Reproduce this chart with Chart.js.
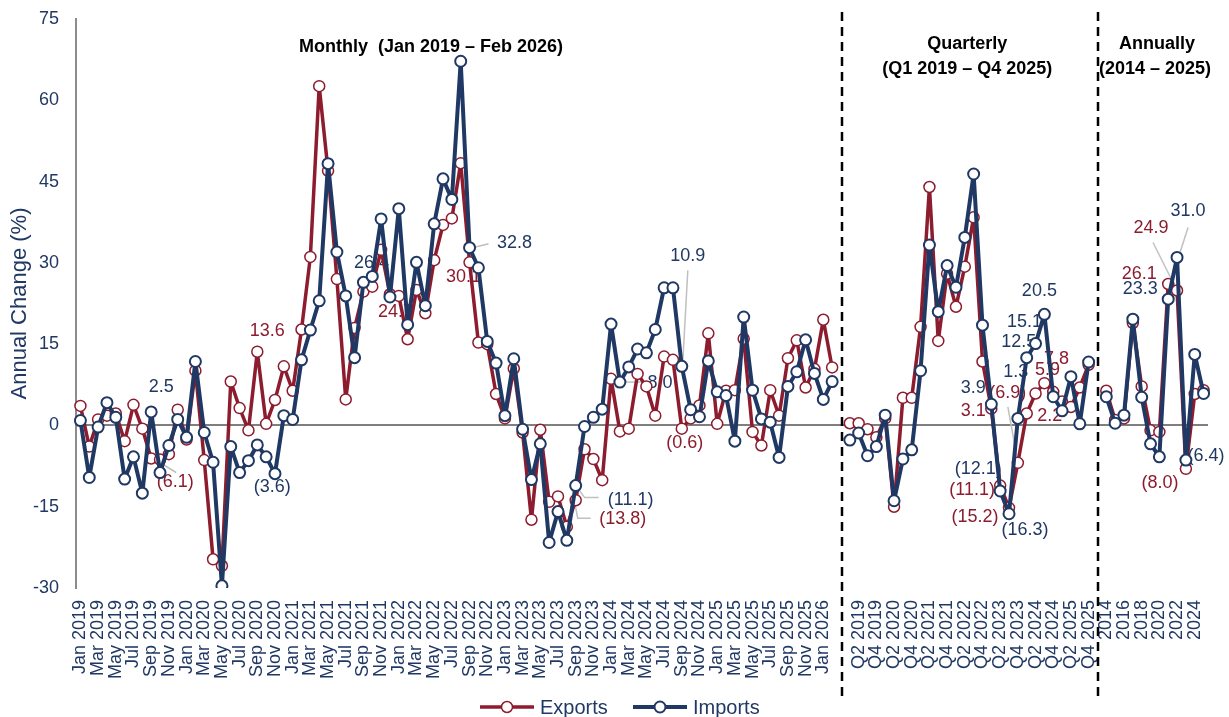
<!DOCTYPE html>
<html>
<head>
<meta charset="utf-8">
<script src="https://cdn.jsdelivr.net/npm/chart.js@4.4.1/dist/chart.umd.min.js"></script>
<style>
  html, body { margin: 0; padding: 0; background: #fff; }
  #wrap { width: 1229px; height: 717px; position: relative; }
</style>
</head>
<body>
<div id="wrap"><canvas id="myChart"></canvas></div>
<script>
const FONT = 'Arial, "Liberation Sans", sans-serif';
const NAVY = '#203864';
const RED = '#8c1c2e';

// Categories

const monthNames = ['Jan', 'Feb', 'Mar', 'Apr', 'May', 'Jun', 'Jul', 'Aug', 'Sep', 'Oct', 'Nov', 'Dec'];
const monthLabels = [];
for (let y = 2019; y <= 2026; y++) {
  monthNames.forEach((m, k) => {
    if (y === 2026 && k > 1) return; // series stops at Feb 2026
    monthLabels.push(m + ' ' + y);
  });
}
const quarterLabels = [];
for (let y = 2019; y <= 2025; y++) {
  for (let q = 1; q <= 4; q++) quarterLabels.push('Q' + q + ' ' + y);
}
const yearLabels = ['2014', '2015', '2016', '2017', '2018', '2019', '2020', '2021', '2022', '2023', '2024', '2025'];

// Annual change (%)

const monthExports = [
  3.6, -3.9, 1.1, 1.8, 2.2, -2.9, 3.8, -0.6, -6.1, -6.3, -5.3, 2.9,
  -2.6, 10.1, -6.4, -24.7, -25.9, 8.1, 3.2, -0.9, 13.6, 0.3, 4.7, 10.9,
  6.4, 17.7, 31.1, 62.6, 47.0, 27.0, 4.8, 18.0, 24.7, 25.6, 32.4, 24.2,
  23.9, 15.9, 25.0, 20.7, 30.5, 37.0, 38.2, 48.4, 30.1, 15.3, 15.0, 5.8,
  1.3, 10.5, -1.3, -17.4, -0.8, -14.1, -13.1, -18.7, -13.8, -4.4, -6.2, -10.1,
  8.6, -1.1, -0.6, 9.5, 7.2, 1.8, 12.7, 12.1, -0.6, 1.3, 3.7, 17.0,
  0.3, 6.4, 6.5, 16.0, -1.2, -3.7, 6.5, 1.8, 12.4, 15.7, 7.0, 10.4,
  19.5, 10.7
];
const monthImports = [
  0.9, -9.6, -0.3, 4.2, 1.5, -9.9, -5.8, -12.5, 2.5, -8.7, -3.7, 1.1,
  -2.2, 11.8, -1.3, -6.8, -29.6, -3.9, -8.7, -6.5, -3.6, -5.8, -8.9, 1.8,
  1.1, 12.1, 17.6, 23.0, 48.3, 32.0, 23.9, 12.5, 26.4, 27.5, 38.1, 23.7,
  40.0, 18.6, 30.1, 22.1, 37.2, 45.5, 41.7, 67.2, 32.8, 29.1, 15.5, 11.5,
  1.8, 12.3, -0.7, -10.0, -3.4, -21.6, -15.9, -21.2, -11.1, -0.2, 1.5, 3.0,
  18.7, 8.0, 10.8, 14.1, 13.4, 17.7, 25.4, 25.4, 10.9, 2.9, 1.6, 11.9,
  6.2, 5.5, -2.9, 20.0, 6.5, 1.2, 0.6, -5.9, 7.2, 9.9, 15.8, 9.6,
  4.8, 8.1
];
const quarterExports = [
  0.4, 0.4, -0.7, -2.2, 1.3, -15.0, 5.1, 5.1, 18.2, 44.0, 15.6, 28.0,
  21.9, 29.3, 38.4, 11.8, 3.1, -11.1, -15.2, -6.9, 2.2, 5.9, 7.8, 6.2,
  4.4, 3.4, 7.0, 11.2
];
const quarterImports = [
  -2.7, -1.4, -5.6, -3.9, 1.9, -13.9, -6.2, -4.5, 10.1, 33.3, 21.0, 29.5,
  25.5, 34.7, 46.4, 18.5, 3.9, -12.1, -16.3, 1.3, 12.5, 15.1, 20.5, 5.3,
  2.7, 9.0, 0.3, 11.7
];
const yearExports = [6.4, 1.0, 1.3, 18.9, 7.2, -0.9, -1.2, 26.1, 24.9, -8.0, 5.8, 6.5];
const yearImports = [5.3, 0.4, 1.9, 19.6, 5.2, -3.4, -5.8, 23.3, 31.0, -6.4, 13.1, 5.9];

// one empty category between the blocks, lines break there
const labels = [...monthLabels, '', ...quarterLabels, '', ...yearLabels];
const exportsData = [...monthExports, null, ...quarterExports, null, ...yearExports];
const importsData = [...monthImports, null, ...quarterImports, null, ...yearImports];
const gapIndex = [monthLabels.length, monthLabels.length + 1 + quarterLabels.length];
const qStart = monthLabels.length + 1;
const yStart = gapIndex[1] + 1;

// Callouts: dataset (0 exports, 1 imports), category index, text offset from point, optional leader
const callouts = [
  { s: 1, i: 8, dx: 10, dy: -25 },
  { s: 0, i: 8, dx: 24, dy: 24, lead: [[2, 0], [25, 14]] },
  { s: 0, i: 20, dx: 10, dy: -21 },
  { s: 1, i: 20, dx: 15, dy: 42, lead: [[1, 1], [16, 25]] },
  { s: 1, i: 32, dx: 8, dy: -19 },
  { s: 0, i: 32, dx: 32, dy: 20 },
  { s: 1, i: 44, dx: 45, dy: -5, lead: [[3, 0], [19, -4]] },
  { s: 0, i: 44, dx: -6, dy: 15 },
  { s: 1, i: 68, dx: 6, dy: -110, lead: [[1, -5], [6, -96]] },
  { s: 1, i: 61, dx: 40, dy: 1, lead: [[2, 0], [27, 0]] },
  { s: 1, i: 56, dx: 55, dy: 14, lead: [[1, 1], [9, 12], [23, 12]] },
  { s: 0, i: 56, dx: 47, dy: 19, lead: [[-1, 2], [2, 18], [15, 18]] },
  { s: 0, i: 68, dx: 3, dy: 14 },
  { s: 1, i: qStart + 16, dx: -18, dy: -16 },
  { s: 0, i: qStart + 16, dx: -18, dy: 2 },
  { s: 1, i: qStart + 17, dx: -22, dy: -22 },
  { s: 0, i: qStart + 17, dx: -28, dy: 4 },
  { s: 0, i: qStart + 18, dx: -34, dy: 9 },
  { s: 1, i: qStart + 18, dx: 16, dy: 16 },
  { s: 1, i: qStart + 19, dx: -2, dy: -46 },
  { s: 0, i: qStart + 19, dx: -10, dy: -70, lead: [[-1, -6], [-10, -56]] },
  { s: 1, i: qStart + 20, dx: -8, dy: -16 },
  { s: 0, i: qStart + 20, dx: 23, dy: 3 },
  { s: 1, i: qStart + 21, dx: -11, dy: -22 },
  { s: 0, i: qStart + 21, dx: 12, dy: -23 },
  { s: 1, i: qStart + 22, dx: -5, dy: -23 },
  { s: 0, i: qStart + 22, dx: 12, dy: -24, lead: [[2, 0], [8, -5]] },
  { s: 0, i: yStart + 7, dx: -29, dy: -10 },
  { s: 1, i: yStart + 7, dx: -28, dy: -10 },
  { s: 0, i: yStart + 8, dx: -26, dy: -62, lead: [[0, 0], [-24, -48]] },
  { s: 1, i: yStart + 8, dx: 11, dy: -46, lead: [[2, -2], [11, -30]] },
  { s: 1, i: yStart + 9, dx: 20, dy: -4 },
  { s: 0, i: yStart + 9, dx: -26, dy: 14 }
];

function fmt(v) {
  return v < 0 ? '(' + Math.abs(v).toFixed(1) + ')' : v.toFixed(1);
}

// Extra drawing: callouts under the lines, separators, block titles and legend on top

const decorPlugin = {
  id: 'decor',
  beforeDatasetsDraw(chart) {
    const ctx = chart.ctx;
    ctx.save();
    ctx.font = '18px ' + FONT;
    ctx.textAlign = 'center';
    ctx.textBaseline = 'middle';
    callouts.forEach(c => {
      const pt = chart.getDatasetMeta(c.s).data[c.i];
      const value = chart.data.datasets[c.s].data[c.i];
      if (c.lead) {
        ctx.strokeStyle = '#c0c0c0';
        ctx.lineWidth = 1.5;
        ctx.beginPath();
        c.lead.forEach((p, k) => {
          if (k === 0) ctx.moveTo(pt.x + p[0], pt.y + p[1]);
          else ctx.lineTo(pt.x + p[0], pt.y + p[1]);
        });
        ctx.stroke();
      }
      ctx.fillStyle = c.s === 0 ? RED : NAVY;
      ctx.fillText(fmt(value), pt.x + c.dx, pt.y + c.dy);
    });
    ctx.restore();
  },
  afterDraw(chart) {
    const ctx = chart.ctx;
    const xs = chart.scales.x;
    ctx.save();

    // dashed separators
    ctx.strokeStyle = '#000';
    ctx.lineWidth = 2.5;
    ctx.setLineDash([9, 6]);
    gapIndex.forEach(g => {
      const x = Math.round(xs.getPixelForValue(g)) + 1;
      ctx.beginPath();
      ctx.moveTo(x, 12);
      ctx.lineTo(x, 698);
      ctx.stroke();
    });
    ctx.setLineDash([]);

    // block titles
    ctx.fillStyle = '#000';
    ctx.font = 'bold 18px ' + FONT;
    ctx.textAlign = 'center';
    ctx.textBaseline = 'middle';
    ctx.fillText('Monthly  (Jan 2019 \u2013 Feb 2026)', 431, 47);
    const qMid = (xs.getPixelForValue(qStart) + xs.getPixelForValue(gapIndex[1] - 1)) / 2;
    ctx.fillText('Quarterly', qMid - 2, 44);
    ctx.fillText('(Q1 2019 \u2013 Q4 2025)', qMid - 2, 69);
    const yMid = (xs.getPixelForValue(yStart) + xs.getPixelForValue(labels.length - 1)) / 2;
    ctx.fillText('Annually', yMid + 2, 44);
    ctx.fillText('(2014 \u2013 2025)', yMid, 69);

    // legend
    const items = [
      { x: 480, color: RED, lw: 3.5, bw: 1.5, text: 'Exports' },
      { x: 633, color: NAVY, lw: 4, bw: 2, text: 'Imports' }
    ];
    const ly = 707;
    items.forEach(it => {
      ctx.strokeStyle = it.color;
      ctx.lineWidth = it.lw;
      ctx.beginPath();
      ctx.moveTo(it.x, ly);
      ctx.lineTo(it.x + 54, ly);
      ctx.stroke();
      ctx.beginPath();
      ctx.arc(it.x + 27, ly, 5.5, 0, Math.PI * 2);
      ctx.fillStyle = '#fff';
      ctx.fill();
      ctx.lineWidth = it.bw;
      ctx.stroke();
      ctx.fillStyle = NAVY;
      ctx.font = '20px ' + FONT;
      ctx.textAlign = 'left';
      ctx.fillText(it.text, it.x + 60, ly + 1);
    });
    ctx.restore();
  }
};

const ctx = document.getElementById('myChart');

new Chart(ctx, {
  type: 'line',
  data: {
    labels: labels,
    datasets: [
      {
        label: 'Exports',
        data: exportsData,
        borderColor: RED,
        borderWidth: 3.5,
        borderJoinStyle: 'round',
        pointRadius: 5.5,
        pointBorderWidth: 1.5,
        pointBackgroundColor: '#fff',
        pointBorderColor: RED,
        spanGaps: false,
        order: 1
      },
      {
        label: 'Imports',
        data: importsData,
        borderColor: NAVY,
        borderWidth: 4,
        borderJoinStyle: 'round',
        pointRadius: 5.5,
        pointBorderWidth: 2,
        pointBackgroundColor: '#fff',
        pointBorderColor: NAVY,
        spanGaps: false,
        order: 0
      }
    ]
  },
  options: {
    responsive: true,
    maintainAspectRatio: false,
    animation: false,
    events: [],
    layout: { padding: { top: 19, right: 21, bottom: 0, left: 0 } },
    plugins: {
      legend: { display: false },
      tooltip: { enabled: false }
    },
    scales: {
      x: {
        offset: true,
        grid: { display: false, drawTicks: false },
        border: { display: false },
        ticks: {
          autoSkip: false,
          minRotation: 90,
          maxRotation: 90,
          padding: 12,
          color: NAVY,
          font: { family: FONT, size: 18 },
          callback: function (value, index) {
            return index % 2 === 0 ? this.getLabelForValue(value) : '';
          }
        },
        afterFit: scale => {
          scale.height = 129;
          scale.paddingLeft = 0;
          scale.paddingRight = 0;
        }
      },
      y: {
        min: -30,
        max: 75,
        ticks: {
          stepSize: 15,
          padding: 17,
          color: NAVY,
          font: { family: FONT, size: 18 }
        },
        grid: {
          drawTicks: false,
          lineWidth: 2,
          color: c => (c.tick && c.tick.value === 0 ? '#7f7f7f' : 'rgba(0,0,0,0)')
        },
        border: { display: true, color: '#8c8c8c', width: 2 },
        title: {
          display: true,
          text: 'Annual Change (%)',
          color: NAVY,
          font: { family: FONT, size: 22 },
          padding: { top: 7, bottom: 0 }
        },
        afterFit: scale => {
          scale.width = 76;
          scale.paddingTop = 0;
          scale.paddingBottom = 0;
        }
      }
    }
  },
  plugins: [decorPlugin]
});
</script>
</body>
</html>
